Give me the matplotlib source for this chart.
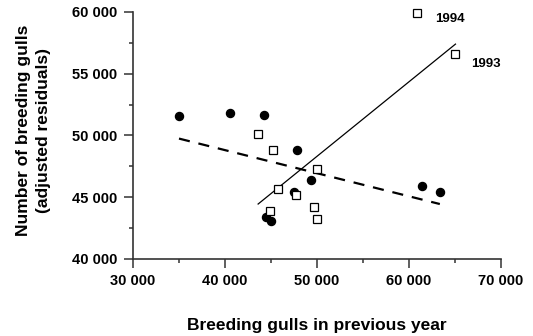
import matplotlib
matplotlib.use("Agg")
import matplotlib.pyplot as plt
from matplotlib.ticker import MultipleLocator, FuncFormatter

plt.rcParams['font.family'] = ['Liberation Sans', 'DejaVu Sans']

# filled circles
circ_x = [35000, 40550, 44250, 47800, 49300, 47450, 44450, 45000, 61400, 63350]
circ_y = [51600, 51800, 51650, 48850, 46400, 45400, 43400, 43050, 45950, 45450]
# open squares
sq_x = [60900, 65050, 43550, 45200, 49950, 45750, 47700, 44900, 49650, 50000]
sq_y = [59900, 56600, 50150, 48850, 47250, 45700, 45150, 43900, 44200, 43200]
# regression lines
solid_x = [43600, 65050]
solid_y = [44450, 57400]
dash_x = [35000, 63350]
dash_y = [49750, 44450]
year_labels = ["1994", "1993"]
year_pos_x = [62850, 66750]
year_pos_y = [59450, 55750]

fig = plt.figure(figsize=(5.33, 3.36), dpi=100)
ax = fig.add_axes([0.2495, 0.2292, 0.6905, 0.7351])

ax.plot(solid_x, solid_y, color='black', lw=0.9)
ax.plot(dash_x, dash_y, color='black', lw=1.6, dashes=(5, 4))
ax.plot(circ_x, circ_y, 'o', color='black', ms=5.8, zorder=3, clip_on=False)
ax.plot(sq_x, sq_y, 's', mfc='white', mec='black', mew=0.9, ms=6.2, zorder=3, clip_on=False)
for t, x, y in zip(year_labels, year_pos_x, year_pos_y):
    ax.text(x, y, t, fontsize=9.5, fontweight='bold', ha='left', va='center')

ax.set_xlim(30000, 70000)
ax.set_ylim(40000, 60000)
for s in ['top', 'right']:
    ax.spines[s].set_visible(False)
for s in ['left', 'bottom']:
    ax.spines[s].set_linewidth(1.2)
    ax.spines[s].set_color('#333333')

ax.xaxis.set_major_locator(MultipleLocator(10000))
ax.xaxis.set_minor_locator(MultipleLocator(5000))
ax.yaxis.set_major_locator(MultipleLocator(5000))
ax.yaxis.set_minor_locator(MultipleLocator(2500))
fmt = FuncFormatter(lambda v, p: f"{int(v):,}".replace(",", " "))
ax.xaxis.set_major_formatter(fmt)
ax.yaxis.set_major_formatter(fmt)
ax.tick_params(which='major', direction='out', length=6.5, width=1.1, color='#333333',
               labelsize=10.5)
ax.tick_params(axis='y', which='major', pad=5)
ax.tick_params(axis='x', which='major', pad=4)
ax.tick_params(which='minor', direction='out', length=3, width=1.1, color='#333333')
for lab in ax.get_xticklabels() + ax.get_yticklabels():
    lab.set_fontweight('bold')

ax.set_xlabel("Breeding gulls in previous year", fontsize=12.5, fontweight='bold', labelpad=22)
ax.set_ylabel("Number of breeding gulls\n(adjusted residuals)", fontsize=12.5,
              fontweight='bold', labelpad=15, linespacing=1.35)
ax.yaxis.set_label_coords(-0.224, 0.52)
ax.yaxis.label.set_va('bottom')

fig.savefig("out.png", dpi=100)
